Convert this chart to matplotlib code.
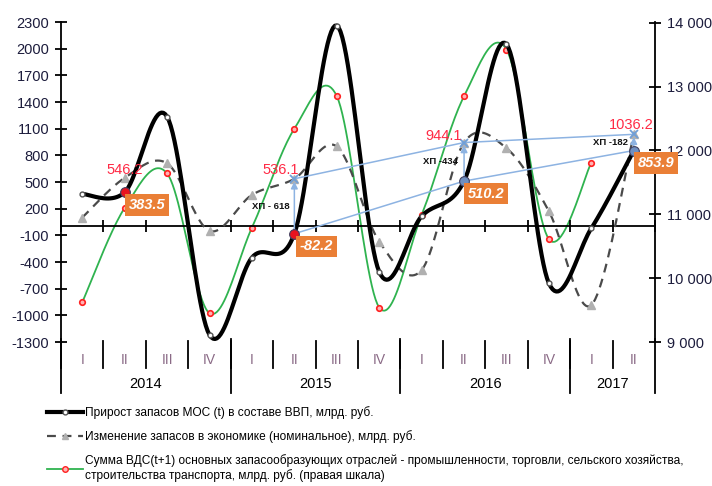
import numpy as np
import matplotlib.pyplot as plt
from matplotlib.lines import Line2D
from matplotlib.transforms import blended_transform_factory

plt.rcParams['font.family'] = ['Liberation Sans', 'DejaVu Sans']

quarters = ["I", "II", "III", "IV", "I", "II", "III", "IV", "I", "II", "III", "IV", "I", "II"]
years = ["2014", "2015", "2016", "2017"]
year_sizes = [4, 4, 4, 2]

# прирост запасов МОС (t), млрд. руб.
mos_growth = [365, 383.5, 1235, -1220, -350, -82.2, 2260, -510, 115, 510.2, 2050, -640, -20, 853.9]
# изменение запасов в экономике (номинальное), млрд. руб.
stock_change = [100, 546.2, 710, -50, 355, 536.1, 900, -170, -490, 944.1, 880, 170, -885, 1036.2]
# сумма ВДС(t+1), правая шкала
gva_sum = [9620, 11100, 11640, 9450, 10790, 12340, 12850, 9540, 10990, 12850, 13580, 10610, 11810]

# точки с подписями (II квартал)
marked_idx = [1, 5, 9, 13]
gap_idx = [5, 9, 13]
gap_labels = ["ХП - 618", "ХП -434", "ХП -182"]

left_ticks = list(range(-1300, 2301, 300))
right_ticks = [9000, 10000, 11000, 12000, 13000, 14000]
right_tick_labels = ["9 000", "10 000", "11 000", "12 000", "13 000", "14 000"]

legend_labels = [
    "Прирост запасов МОС (t) в составе ВВП, млрд. руб.",
    "Изменение запасов в экономике (номинальное), млрд. руб.",
    "Сумма ВДС(t+1) основных запасообразующих отраслей - промышленности, торговли, сельского хозяйства,\n"
    "строительства транспорта, млрд. руб. (правая шкала)",
]


def smooth(y, n=24):
    # сглаживание линии как в Excel (кубические Безье по Катмулл-Рому)
    pts = np.column_stack([np.arange(len(y), dtype=float), np.asarray(y, float)])
    out = [pts[0]]
    t = np.linspace(0, 1, n)[1:, None]
    for i in range(len(pts) - 1):
        p0, p3 = pts[i], pts[i + 1]
        pm = pts[max(i - 1, 0)]
        pp = pts[min(i + 2, len(pts) - 1)]
        c1 = p0 + (p3 - pm) / 6
        c2 = p3 - (pp - p0) / 6
        seg = (1 - t) ** 3 * p0 + 3 * (1 - t) ** 2 * t * c1 + 3 * (1 - t) * t ** 2 * c2 + t ** 3 * p3
        out.extend(seg)
    out = np.array(out)
    return out[:, 0], out[:, 1]


fig = plt.figure(figsize=(7.12, 4.86), dpi=100)
ax = fig.add_axes([61 / 712, 1 - 342 / 486, (655 - 61) / 712, 320 / 486])
ax2 = ax.twinx()
ax.set_zorder(ax2.get_zorder() + 1)
ax.patch.set_visible(False)

x = np.arange(len(quarters))
tick_col = '#1c1c3c'

# зелёная линия (правая шкала)
gx, gy = smooth(gva_sum)
ax2.plot(gx, gy, color='#2fb34f', lw=1.3)
ax2.plot(x[:len(gva_sum)], gva_sum, ls='none', marker='o', ms=4,
         mfc='#ffb3b3', mec='#ff2020', mew=1.2)

# пунктир
sx, sy = smooth(stock_change)
ax.plot(sx, sy, color='#4a4a4a', lw=1.6, dashes=(4, 3))
ax.plot(x, stock_change, ls='none', marker='^', ms=6, color='#b0b0b0')

# чёрная линия
bx, by = smooth(mos_growth)
ax.plot(bx, by, color='black', lw=3, solid_capstyle='round')
ax.plot(x, mos_growth, ls='none', marker='o', ms=3.5, mfc='white', mec='#555555', mew=1)

# синие линии и стрелки
blue = '#8db3e2'
ax.plot([x[i] for i in gap_idx], [mos_growth[i] for i in gap_idx], color=blue, lw=1.1, zorder=4)
ax.plot([x[i] for i in gap_idx], [stock_change[i] for i in gap_idx], color=blue, lw=1.1, zorder=4)
for i, lab in zip(gap_idx, gap_labels):
    ax.annotate('', xy=(x[i], stock_change[i]), xytext=(x[i], mos_growth[i]),
                arrowprops=dict(arrowstyle='-|>', color=blue, lw=1.1, mutation_scale=10), zorder=4)
    ax.plot(x[i], stock_change[i], marker='x', color='#6f9fd8', ms=6, mew=1.3, zorder=5)
    mid = (mos_growth[i] + stock_change[i]) / 2
    ax.annotate(lab, xy=(x[i], mid), xytext=(-17, 0), textcoords='offset points',
                ha='center', va='center', fontsize=6.8, fontweight='bold', color='#111111', zorder=6)

# выделенные точки
for i in marked_idx:
    c = '#e8131f' if i < 9 else '#6f8fc0'
    ax.plot(x[i], mos_growth[i], marker='o', ms=7, mfc=c, mec='#404060', mew=0.8, zorder=6)

red_offsets = [(0, 6), (-10, 6), (-15, 5), (-2, 7)]
for i, off in zip(marked_idx, red_offsets):
    ax.annotate(f"{stock_change[i]:.1f}", xy=(x[i], stock_change[i]), xytext=off,
                textcoords='offset points', ha='center', va='center',
                fontsize=10.5, color='#ff2a45', zorder=7)
for i in marked_idx:
    ax.annotate(f"{mos_growth[i]:.1f}", xy=(x[i], mos_growth[i]), xytext=(16, -9),
                textcoords='offset points', ha='center', va='center',
                fontsize=10.5, color='white', fontweight='bold', style='italic', zorder=7,
                bbox=dict(boxstyle='square,pad=0.25', fc='#ea7f36', ec='none'))

# оси
ax.set_xlim(-0.5, len(quarters) - 0.5)
ax.set_ylim(-1300, 2300)
ax2.set_ylim(9031, 14011)
ax.set_yticks(left_ticks)
ax.set_yticklabels([str(v) for v in left_ticks])
ax2.set_yticks(right_ticks)
ax2.set_yticklabels(right_tick_labels)

for a in (ax, ax2):
    a.spines['top'].set_visible(False)
    a.tick_params(axis='y', direction='inout', length=9, width=1.3, labelsize=10.5,
                  labelcolor=tick_col, color='black', pad=4)
    for s in ('left', 'right'):
        a.spines[s].set_linewidth(1.3)
ax2.spines['bottom'].set_visible(False)
ax.spines['right'].set_visible(False)
ax2.spines['left'].set_visible(False)
ax.spines['bottom'].set_position(('data', 0))
ax.spines['bottom'].set_linewidth(1.3)
ax.spines['bottom'].set_zorder(1)
ax.set_xticks(np.arange(-0.5, len(quarters) + 0.5, 1))
ax.tick_params(axis='x', direction='inout', length=9, width=1.3, labelbottom=False)

# подписи категорий под графиком
tr = blended_transform_factory(ax.transData, fig.transFigure)
y_top = 1 - 341 / 486
y_q = 1 - 368 / 486
y_bottom = 1 - 393 / 486
for i, q in enumerate(quarters):
    ax.text(x[i], 1 - 360 / 486, q, transform=tr, ha='center', va='center',
            fontsize=10, color='#8a6a86')
    ax.plot([i - 0.5, i - 0.5], [y_top, y_q], transform=tr, color='black', lw=1.3, clip_on=False)
start = 0
bounds = [-0.5]
for yr, n in zip(years, year_sizes):
    ax.text(start + (n - 1) / 2, 1 - 384 / 486, yr, transform=tr, ha='center', va='center',
            fontsize=10.5, color='black')
    start += n
    bounds.append(start - 0.5)
for b in bounds:
    ax.plot([b, b], [y_top + 0.005, y_bottom], transform=tr, color='black', lw=1.3, clip_on=False)

# легенда
handles = [
    Line2D([], [], color='black', lw=3, marker='o', ms=3.5, mfc='white', mec='#555555'),
    Line2D([], [], color='#4a4a4a', lw=1.6, dashes=(4, 3), marker='^', ms=5, mfc='#b0b0b0', mec='#b0b0b0'),
    Line2D([], [], color='#2fb34f', lw=1.3, marker='o', ms=4, mfc='#ffb3b3', mec='#ff2020'),
]
fig.legend(handles, legend_labels, loc='upper left', bbox_to_anchor=(36 / 712, 1 - 395 / 486),
           frameon=False, handlelength=3.0, handletextpad=0.2, labelspacing=0.95,
           prop=dict(size=8.6))

fig.savefig('out.png', dpi=100)
